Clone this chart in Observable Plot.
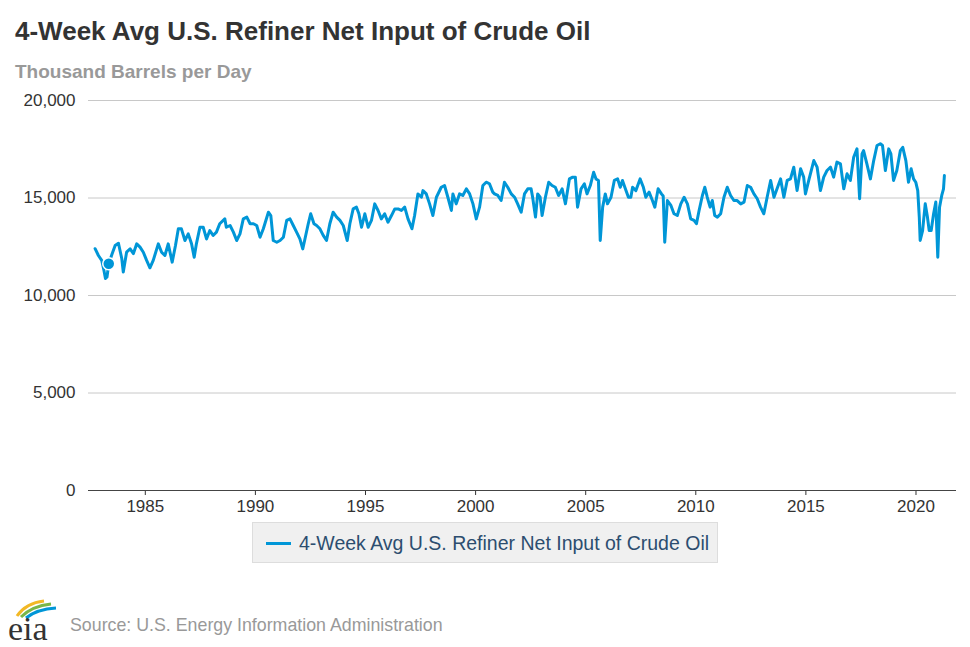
<!DOCTYPE html>
<html><head><meta charset="utf-8">
<script src="https://cdn.jsdelivr.net/npm/d3@7"></script>
<script src="https://cdn.jsdelivr.net/npm/@observablehq/plot@0.6"></script>
<style>
body{margin:0;width:970px;height:647px;position:relative;background:#fff;font-family:"Liberation Sans",Arial,sans-serif;overflow:hidden}
#title{position:absolute;left:15px;top:18px;font-size:26px;line-height:1;font-weight:bold;color:#333;white-space:nowrap}
#subtitle{position:absolute;left:15px;top:62px;font-size:19px;line-height:1;font-weight:bold;color:#999;white-space:nowrap}
#chart{position:absolute;left:0;top:85px}
#legend{position:absolute;left:252px;top:522px;width:466px;height:41px;background:#f0f0f0;border:1px solid #ddd;box-sizing:border-box}
#legend .sw{position:absolute;left:13px;top:19px;width:25px;height:3px;background:#0096d7}
#legend .tx{position:absolute;left:46px;top:11px;font-size:19.5px;line-height:1;color:#2c4d6f;white-space:nowrap}
#source{position:absolute;left:70px;top:617px;font-size:17.8px;line-height:1;color:#999;white-space:nowrap}
#logo{position:absolute;left:4px;top:596px}
</style></head>
<body>
<div id="title">4-Week Avg U.S. Refiner Net Input of Crude Oil</div>
<div id="subtitle">Thousand Barrels per Day</div>
<div id="chart"></div>
<div id="legend"><div class="sw"></div><div class="tx">4-Week Avg U.S. Refiner Net Input of Crude Oil</div></div>
<svg id="logo" width="62" height="50" viewBox="0 0 62 50">
  <path d="M13 20 Q22 7 40 5" fill="none" stroke="#f2b825" stroke-width="3"/>
  <path d="M17 21 Q28 10 47 8" fill="none" stroke="#7ab648" stroke-width="3"/>
  <path d="M22 22 Q33 13 52 12" fill="none" stroke="#0096d7" stroke-width="3"/>
  <text x="4" y="44" font-family="Liberation Serif, serif" font-size="34" fill="#333">eia</text>
</svg>
<div id="source">Source: U.S. Energy Information Administration</div>
<script>
const years = [1982.72,1982.87,1983.02,1983.12,1983.19,1983.26,1983.34,1983.49,1983.63,1983.78,1983.93,1984.00,1984.15,1984.31,1984.46,1984.61,1984.76,1984.91,1985.06,1985.21,1985.36,1985.59,1985.74,1985.89,1986.04,1986.22,1986.37,1986.50,1986.64,1986.80,1986.95,1987.10,1987.22,1987.32,1987.48,1987.63,1987.78,1987.93,1988.08,1988.23,1988.38,1988.61,1988.68,1988.85,1989.00,1989.15,1989.30,1989.45,1989.61,1989.76,1989.91,1990.06,1990.21,1990.36,1990.59,1990.70,1990.81,1990.97,1991.12,1991.27,1991.42,1991.57,1991.72,1991.87,1992.02,1992.15,1992.25,1992.40,1992.51,1992.66,1992.78,1992.93,1993.08,1993.23,1993.38,1993.53,1993.69,1993.84,1993.99,1994.17,1994.29,1994.44,1994.59,1994.70,1994.82,1994.97,1995.12,1995.27,1995.42,1995.57,1995.72,1995.87,1996.02,1996.18,1996.33,1996.48,1996.63,1996.78,1996.93,1997.11,1997.23,1997.38,1997.54,1997.61,1997.76,1997.91,1998.06,1998.22,1998.44,1998.59,1998.74,1998.90,1998.97,1999.12,1999.27,1999.42,1999.58,1999.73,1999.88,2000.03,2000.18,2000.33,2000.48,2000.63,2000.78,2000.86,2001.01,2001.16,2001.31,2001.46,2001.62,2001.77,2001.91,2002.07,2002.22,2002.37,2002.52,2002.59,2002.72,2002.82,2002.93,2003.02,2003.17,2003.32,2003.47,2003.62,2003.77,2003.93,2004.08,2004.26,2004.41,2004.53,2004.63,2004.79,2004.94,2005.06,2005.21,2005.36,2005.47,2005.58,2005.66,2005.77,2005.89,2005.99,2006.15,2006.30,2006.45,2006.57,2006.67,2006.83,2006.94,2007.05,2007.13,2007.28,2007.47,2007.62,2007.73,2007.88,2008.03,2008.14,2008.29,2008.44,2008.52,2008.59,2008.71,2008.87,2009.01,2009.16,2009.32,2009.47,2009.62,2009.77,2009.92,2010.03,2010.15,2010.30,2010.41,2010.52,2010.65,2010.75,2010.86,2010.98,2011.13,2011.28,2011.43,2011.58,2011.73,2011.88,2012.04,2012.19,2012.34,2012.49,2012.64,2012.79,2012.94,2013.09,2013.24,2013.40,2013.55,2013.85,2014.00,2014.15,2014.30,2014.45,2014.60,2014.76,2014.90,2014.98,2015.13,2015.36,2015.51,2015.66,2015.81,2015.96,2016.12,2016.26,2016.41,2016.57,2016.72,2016.87,2017.02,2017.17,2017.32,2017.44,2017.55,2017.62,2017.77,2017.93,2018.08,2018.23,2018.38,2018.48,2018.61,2018.76,2018.86,2018.98,2019.13,2019.29,2019.40,2019.54,2019.66,2019.78,2019.89,2019.99,2020.08,2020.15,2020.19,2020.30,2020.42,2020.52,2020.60,2020.69,2020.80,2020.90,2020.99,2021.07,2021.17,2021.25,2021.29];
const values = [12400,12050,11800,11300,10870,10950,11630,12130,12560,12680,11900,11200,12220,12390,12150,12650,12480,12220,11800,11420,11800,12650,12220,12050,12650,11710,12560,13420,13420,12820,13160,12650,11960,12650,13500,13500,12900,13330,13080,13250,13680,13930,13500,13590,13250,12820,13160,13930,14020,13680,13680,13590,12990,13420,14270,14100,12820,12730,12820,12990,13850,13930,13590,13250,12900,12390,12900,13680,14190,13680,13590,13420,13080,12820,13680,14270,14020,13850,13590,12820,13680,14440,14530,14190,13500,14190,13500,13850,14700,14360,13930,14190,13760,14100,14440,14440,14360,14530,13930,13420,14100,15210,15040,15380,15210,14700,14100,15040,15550,15640,15040,14360,15210,14700,15210,15130,15470,15210,14700,13930,14530,15640,15810,15730,15300,15210,15130,14870,15810,15550,15210,15040,14700,14270,15210,15470,15470,15040,14020,15210,15040,14100,15040,15810,15640,15550,15130,15470,14700,15980,16070,16070,14530,15470,15730,15210,15640,16320,15980,15900,12820,14530,15210,14700,15040,15900,15980,15550,15900,15380,15040,15040,15550,15380,15980,15550,15040,15300,14870,14530,15470,15210,15100,12730,14870,14620,14190,14100,14700,15040,14700,13930,13850,13680,14360,15130,15550,15040,14530,14870,14100,14020,14190,15040,15550,15130,14870,14870,14700,14790,15640,15550,15210,14960,14530,14190,15040,15900,15040,15980,15040,15900,15980,16580,15380,16500,16070,15210,15900,16920,16580,15380,16070,16410,16580,16070,16840,16750,15470,16240,15900,17090,17520,14960,17260,17430,16750,15980,16920,17690,17780,17690,16410,17520,17260,15900,16410,17430,17600,16920,15810,16500,15980,15810,15380,14020,12820,13330,14700,14020,13330,13330,14190,14790,11960,14530,15130,15470,16150];
const markerYear = [1983.34];
const markerValue = [11630];
const xTicks = [1985,1990,1995,2000,2005,2010,2015,2020];
const yTicks = [0,5000,10000,15000,20000];

const data = years.map((y, i) => ({year: y, value: values[i]}));
const marker = markerYear.map((y, i) => ({year: y, value: markerValue[i]}));

const chart = Plot.plot({
  width: 970, height: 435,
  marginLeft: 88, marginRight: 14, marginTop: 15, marginBottom: 30,
  style: {fontFamily: "Liberation Sans, Arial, sans-serif", fontSize: "17px", color: "#333", background: "transparent", overflow: "visible"},
  x: {domain: [1982.42, 2021.84], ticks: xTicks, tickFormat: d => String(d), label: null, tickSize: 5, tickPadding: 4},
  y: {domain: [0, 20000], ticks: yTicks, tickFormat: d3.format(","), label: null, tickSize: 0, tickPadding: 13},
  marks: [
    Plot.ruleY(yTicks.filter(d => d > 0), {stroke: "#c8c8c8", strokeWidth: 1}),
    Plot.ruleY([0], {stroke: "#444", strokeWidth: 1.2}),
    Plot.line(data, {x: "year", y: "value", stroke: "#0096d7", strokeWidth: 3, strokeLinejoin: "round"}),
    Plot.dot(marker, {x: "year", y: "value", r: 6, fill: "#0096d7", stroke: "#fff", strokeWidth: 1.5})
  ]
});
document.getElementById("chart").appendChild(chart);
</script>
</body></html>
